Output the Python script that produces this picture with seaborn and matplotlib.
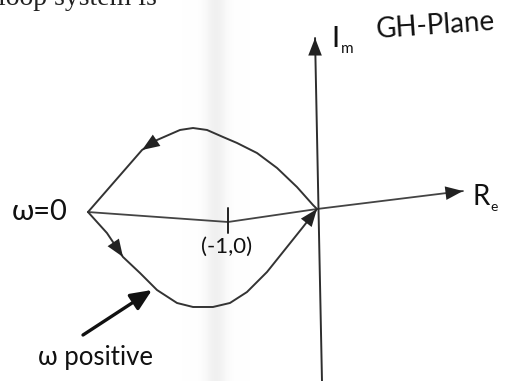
import numpy as np
import pandas as pd
import matplotlib
matplotlib.use("Agg")
import matplotlib.pyplot as plt
import seaborn as sns

# Nyquist locus in the GH-plane (real, imaginary), traced from omega = 0
upper_re = [-2.573, -1.966, -1.798, -1.539, -1.393, -1.236, -1.056, -0.899,
            -0.674, -0.449, -0.225, -0.045, 0.0]
upper_im = [-0.034, 0.663, 0.775, 0.888, 0.910, 0.888, 0.809, 0.742,
            0.629, 0.461, 0.247, 0.045, 0.0]
lower_re = [-2.573, -2.360, -2.180, -1.989, -1.798, -1.573, -1.393, -1.169,
            -0.978, -0.787, -0.562, -0.337, -0.157, 0.0]
lower_im = [-0.034, -0.270, -0.539, -0.719, -0.910, -1.056, -1.101, -1.101,
            -1.056, -0.933, -0.708, -0.427, -0.202, 0.0]

# real axis: omega = 0 point, critical point (-1, 0), origin, arrow tip
real_re = [-2.573, -1.0, 0.0, 1.640]
real_im = [-0.034, -0.146, 0.0, 0.202]
# imaginary axis: bottom end, arrow tip
imag_re = [0.056, -0.022]
imag_im = [-1.933, 1.921]

critical_point = (-1.0, -0.146)

W, H = 508, 381
PX = 89.0          # pixels per unit
X0, Y0 = 317, 209  # origin in pixels

sns.set_theme(style="white")
plt.rcParams["font.family"] = ["Lato", "DejaVu Sans"]
plt.rcParams["mathtext.default"] = "regular"

fig = plt.figure(figsize=(W / 100, H / 100), dpi=100)
ax = fig.add_axes([0, 0, 1, 1])
ax.set_xlim(-X0 / PX, (W - X0) / PX)
ax.set_ylim(-(H - Y0) / PX, Y0 / PX)
ax.axis("off")

# faint shadow of the page fold
xs = np.linspace(-3.6, 2.2, 600)
shade = np.exp(-0.5 * ((xs * PX + X0 - 216) / 11.0) ** 2)
ax.imshow(shade[None, :], extent=(-3.6, 2.2, -2.0, 2.4), aspect="auto",
          cmap=matplotlib.colors.LinearSegmentedColormap.from_list(
              "fold", [(1, 1, 1, 0), (0.90, 0.90, 0.90, 0.55)]),
          vmin=0, vmax=1, zorder=0)

line_c = "#333333"
axis_c = "#2e2e2e"

df_up = pd.DataFrame({"re": upper_re, "im": upper_im})
df_lo = pd.DataFrame({"re": lower_re, "im": lower_im})
df_real = pd.DataFrame({"re": real_re, "im": real_im})
df_imag = pd.DataFrame({"re": imag_re, "im": imag_im})

sns.lineplot(data=df_up, x="re", y="im", sort=False, estimator=None,
             color=line_c, lw=1.4, ax=ax, zorder=3)
sns.lineplot(data=df_lo, x="re", y="im", sort=False, estimator=None,
             color=line_c, lw=1.4, ax=ax, zorder=3)
sns.lineplot(data=df_real, x="re", y="im", sort=False, estimator=None,
             color="#444444", lw=1.3, ax=ax, zorder=2)
sns.lineplot(data=df_imag, x="re", y="im", sort=False, estimator=None,
             color=axis_c, lw=1.4, ax=ax, zorder=2)

head = dict(arrowstyle="-|>,head_length=0.9,head_width=0.35",
            color="#222222", lw=0, shrinkA=0, shrinkB=0, mutation_scale=14)


def arrowhead(p_from, p_to):
    ax.annotate("", xy=p_to, xytext=p_from, arrowprops=head, zorder=5)


# axis arrow tips
arrowhead((real_re[-2] + 0.5 * (real_re[-1] - real_re[-2]),
           real_im[-2] + 0.5 * (real_im[-1] - real_im[-2])),
          (real_re[-1], real_im[-1]))
arrowhead((imag_re[1], imag_im[1] - 0.3), (imag_re[1], imag_im[1]))

# direction of travel along the locus
arrowhead((upper_re[2], upper_im[2]), (upper_re[1], upper_im[1]))
arrowhead((lower_re[1], lower_im[1]), (lower_re[2], lower_im[2]))
arrowhead((lower_re[-2], lower_im[-2]), (lower_re[-1], lower_im[-1]))

# tick at the critical point
cx, cy = critical_point
ax.plot([cx, cx], [cy + 0.16, cy - 0.125], color="#222222", lw=1.4, zorder=4)

# pointer to the positive-frequency branch
ax.annotate("", xy=((152 - X0) / PX, (Y0 - 290) / PX),
            xytext=((83 - X0) / PX, (Y0 - 335) / PX),
            arrowprops=dict(arrowstyle="-|>,head_length=0.8,head_width=0.35",
                            color="#111111", lw=2.4, shrinkA=0, shrinkB=0,
                            mutation_scale=16), zorder=5)


def ftext(px, py, s, **kw):
    fig.text(px / W, 1 - py / H, s, **kw)


ftext(40, 212, "ω=0", fontsize=21, ha="center", va="center", color="#111111")
ftext(227, 247, "(-1,0)", fontsize=16, ha="center", va="center", color="#111111")
ftext(95, 358, "ω positive", fontsize=18.5, ha="center", va="center", color="#111111")
ftext(335, 47, "I", fontsize=21, ha="center", va="baseline", color="#111111")
ftext(347, 53, "m", fontsize=11, ha="center", va="baseline", color="#111111")
ftext(436, 26, "GH-Plane", fontsize=20, ha="center", va="center",
      rotation=4, color="#111111")
ftext(481, 205, "R", fontsize=20, ha="center", va="baseline", color="#111111")
ftext(494, 211, "e", fontsize=10, ha="center", va="baseline", color="#111111")

# running text of the page, cut by the top edge
ftext(-2, 5, "loop system is =", fontsize=20, ha="left", va="baseline",
      family=["Liberation Serif", "DejaVu Serif"], color="#222222")

fig.savefig("out.png", dpi=100)
